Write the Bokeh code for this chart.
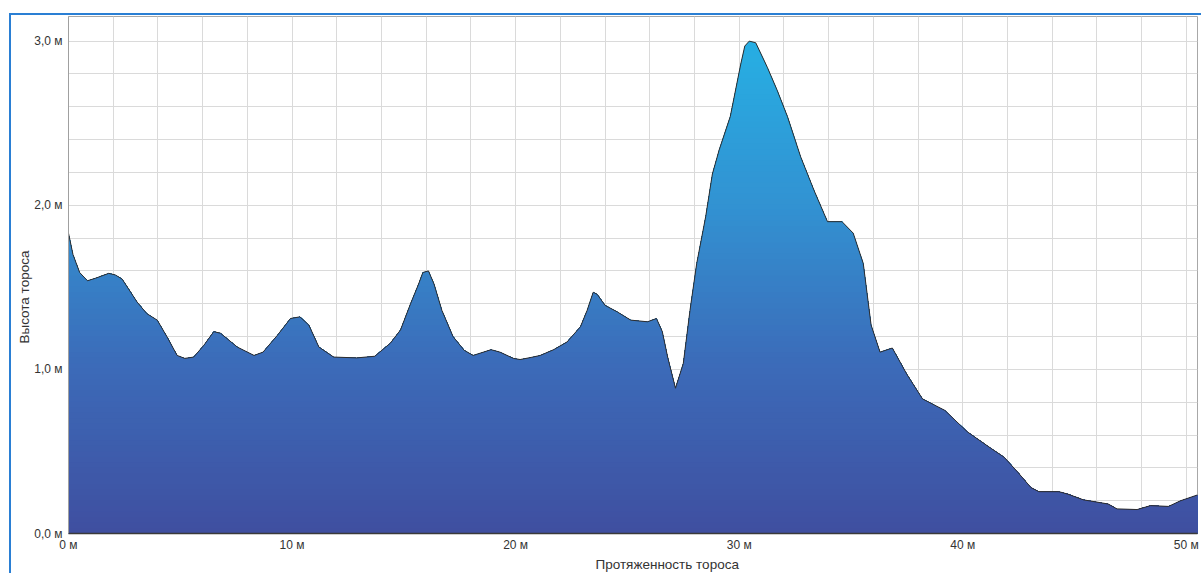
import numpy as np
from bokeh.plotting import figure
from bokeh.models import FixedTicker, Title, Range1d
from bokeh.embed import file_html
from bokeh.resources import INLINE

# ---- data: ridge profile (distance in m, height in m) ----
distance = [0.0, 0.2, 0.5, 0.85, 1.2, 1.8, 2.1, 2.4, 3.07, 3.5, 3.97, 4.4, 4.86, 5.2, 5.6,
            6.05, 6.5, 6.8, 7.55, 8.3, 8.7, 9.34, 9.93, 10.35, 10.75, 11.2, 11.86, 12.9,
            13.7, 14.4, 14.85, 15.3, 15.66, 15.85, 16.1, 16.35, 16.7, 17.2, 17.7, 18.1, 18.9,
            19.3, 19.9, 20.2, 20.7, 21.1, 21.7, 22.3, 22.9, 23.2, 23.47, 23.65, 24.0,
            24.55, 25.15, 25.9, 26.3, 26.56, 26.8, 27.15, 27.5, 27.8, 28.1, 28.5, 28.8,
            29.1, 29.6, 30.07, 30.25, 30.45, 30.74, 31.26, 31.7, 32.16, 32.75, 33.35,
            33.95, 34.6, 35.1, 35.55, 35.9, 36.3, 36.85, 37.5, 38.2, 39.2, 40.2, 41.25,
            41.85, 42.45, 43.05, 43.4, 44.3, 44.7, 45.4, 46.5, 46.9, 47.8, 48.4, 49.2,
            49.75, 50.5]
height = [1.83, 1.70, 1.59, 1.54, 1.555, 1.585, 1.575, 1.55, 1.41, 1.34, 1.30, 1.20, 1.085,
          1.067, 1.075, 1.146, 1.23, 1.22, 1.136, 1.085, 1.105, 1.207, 1.31, 1.32, 1.27,
          1.136, 1.075, 1.07, 1.08, 1.16, 1.24, 1.40, 1.52, 1.59, 1.60, 1.52, 1.36, 1.20,
          1.116, 1.085, 1.12, 1.105, 1.067, 1.06, 1.073, 1.085, 1.12, 1.167, 1.26, 1.36,
          1.47, 1.457, 1.39, 1.35, 1.30, 1.29, 1.31, 1.23, 1.075, 0.885, 1.036, 1.36,
          1.645, 1.93, 2.19, 2.335, 2.54, 2.86, 2.97, 3.0, 2.99, 2.84, 2.70, 2.54, 2.295,
          2.09, 1.90, 1.90, 1.83, 1.645, 1.27, 1.105, 1.13, 0.97, 0.82, 0.75, 0.62, 0.52,
          0.465, 0.375, 0.28, 0.255, 0.255, 0.24, 0.205, 0.18, 0.15, 0.146, 0.17, 0.165,
          0.20, 0.235]

x_ticks = [0, 10, 20, 30, 40, 50]
x_tick_labels = ["0 м", "10 м", "20 м", "30 м", "40 м", "50 м"]
y_ticks = [0, 1, 2, 3]
y_tick_labels = ["0,0 м", "1,0 м", "2,0 м", "3,0 м"]
x_title = "Протяженность тороса"
y_title = "Высота тороса"

FONT = "Liberation Sans"
TXT = "#333333"

p = figure(width=1192, height=560, output_backend="svg", toolbar_location=None,
           x_range=Range1d(0, 50.5), y_range=Range1d(0, 3.15),
           min_border_left=57, min_border_right=6, min_border_top=1, min_border_bottom=42,
           background_fill_color="white", border_fill_color="white")
p.margin = (13, 0, 0, 9)
p.styles = {"border-left": "2px solid #2a7fd4", "border-top": "2px solid #2a7fd4"}

p.outline_line_color = "#a8a8a8"
p.outline_line_width = 1

# grids
p.xgrid.ticker = FixedTicker(ticks=list(range(0, 51, 2)))
p.ygrid.ticker = FixedTicker(ticks=[round(0.2 * i, 2) for i in range(0, 16)])
for g in (p.xgrid, p.ygrid):
    g.grid_line_color = "#dadada"
    g.grid_line_width = 1

# axes
p.xaxis.ticker = FixedTicker(ticks=x_ticks)
p.xaxis.major_label_overrides = dict(zip(x_ticks, x_tick_labels))
p.yaxis.ticker = FixedTicker(ticks=y_ticks)
p.yaxis.major_label_overrides = dict(zip(y_ticks, y_tick_labels))
for ax in (p.xaxis, p.yaxis):
    ax.major_tick_out = 0
    ax.major_tick_in = 0
    ax.minor_tick_out = 0
    ax.minor_tick_in = 0
    ax.major_label_text_font = FONT
    ax.major_label_text_font_size = "12px"
    ax.major_label_text_color = TXT
p.xaxis.axis_line_color = "#3a3a3a"
p.xaxis.axis_line_width = 1.5
p.yaxis.axis_line_color = "#a0a0a0"
p.xaxis.major_label_standoff = 4
p.yaxis.major_label_standoff = 6

# gradient fill: stacked bands clipped to the profile
stops = [(0.0, (63, 79, 160)), (1.0, (60, 106, 184)), (2.0, (50, 146, 210)), (3.05, (38, 176, 228))]


def color_at(v):
    for (a, ca), (b, cb) in zip(stops[:-1], stops[1:]):
        if v <= b:
            t = max(0.0, (v - a) / (b - a))
            c = [int(round(ca[k] + t * (cb[k] - ca[k]))) for k in range(3)]
            return "#%02x%02x%02x" % tuple(c)
    return "#%02x%02x%02x" % stops[-1][1]


def clip(xv, hv, c):
    xs, ys = [], []
    for i in range(len(xv)):
        if i > 0:
            h0, h1 = hv[i - 1], hv[i]
            if (h0 - c) * (h1 - c) < 0:
                t = (c - h0) / (h1 - h0)
                xs.append(xv[i - 1] + t * (xv[i] - xv[i - 1]))
                ys.append(c)
        xs.append(xv[i])
        ys.append(min(hv[i], c))
    return xs, ys


n_bands = 90
top = max(height) + 0.01
levels = np.linspace(top, 0, n_bands, endpoint=False)
step = top / n_bands
for c in levels:
    xs, ys = clip(distance, height, float(c))
    p.varea(x=xs, y1=0, y2=ys, fill_color=color_at(float(c) - step / 2), fill_alpha=1.0)

p.line(distance, height, line_color="#2e2e2e", line_width=1)

# axis titles as side-panel titles
p.add_layout(Title(text=x_title, align="left", offset=527, text_font=FONT,
                   text_font_size="13.5px", text_color=TXT, text_font_style="normal",
                   standoff=0, text_line_height=1.0), "below")
p.add_layout(Title(text=y_title, align="left", offset=190, text_font=FONT,
                   text_font_size="13.5px", text_color=TXT, text_font_style="normal",
                   standoff=0), "left")

open("out.html", "w").write(file_html(p, INLINE))
